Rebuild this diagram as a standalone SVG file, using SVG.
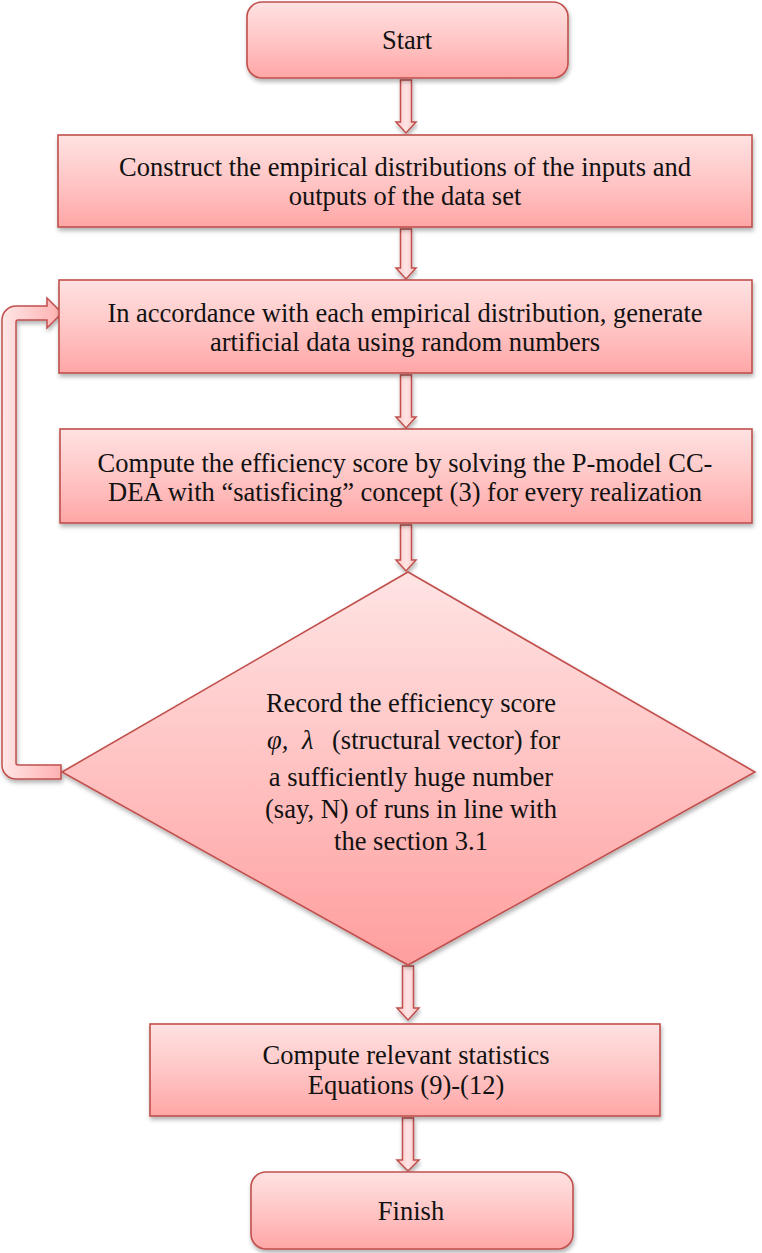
<svg xmlns="http://www.w3.org/2000/svg" width="762" height="1253" viewBox="0 0 762 1253">
  <defs>
    <linearGradient id="gBox" x1="0" y1="0" x2="0" y2="1">
      <stop offset="0" stop-color="#FFE2E2"/>
      <stop offset="0.5" stop-color="#FFC6C6"/>
      <stop offset="1" stop-color="#FFA6A6"/>
    </linearGradient>
    <linearGradient id="gDia" x1="0" y1="0" x2="0" y2="1">
      <stop offset="0" stop-color="#FFE4E4"/>
      <stop offset="0.5" stop-color="#FFC2C2"/>
      <stop offset="1" stop-color="#FF9E9E"/>
    </linearGradient>
    <linearGradient id="gArr" x1="0" y1="0" x2="1" y2="0">
      <stop offset="0" stop-color="#FFC4C4"/>
      <stop offset="0.5" stop-color="#FFE4E4"/>
      <stop offset="1" stop-color="#FFC4C4"/>
    </linearGradient>
    <linearGradient id="gLoop" x1="0" y1="0" x2="1" y2="0">
      <stop offset="0" stop-color="#FFE6E6"/>
      <stop offset="1" stop-color="#FFB0B0"/>
    </linearGradient>
    <filter id="sh" x="-10%" y="-10%" width="120%" height="130%">
      <feDropShadow dx="1" dy="3" stdDeviation="2" flood-color="#000" flood-opacity="0.3"/>
    </filter>
    <style>
      .shape { fill: url(#gBox); stroke: #C0504D; stroke-width: 1.6; filter: url(#sh); }
      .dia { fill: url(#gDia); stroke: #C0504D; stroke-width: 1.6; filter: url(#sh); }
      .arr { fill: url(#gArr); stroke: #C0504D; stroke-width: 1.5; stroke-linejoin: miter; filter: url(#sh); }
      .loop { fill: url(#gLoop); stroke: #C0504D; stroke-width: 1.5; filter: url(#sh); }
      text { font-family: "Liberation Serif", "Times New Roman", serif; font-size: 26.5px; fill: #111; text-anchor: middle; }
      .st { text-anchor: start; }
      .m { font-style: italic; }
    </style>
  </defs>
  <rect width="762" height="1253" fill="#FFFFFF"/>

  <g id="connectors">
    <path class="arr" d="M400.5,80 H411.5 V122 H416 L406,133 L396,122 H400.5 Z"/>
    <path class="arr" d="M400.5,229 H411.5 V268 H416 L406,279 L396,268 H400.5 Z"/>
    <path class="arr" d="M400.5,375 H411.5 V417 H416 L406,428 L396,417 H400.5 Z"/>
    <path class="arr" d="M400.5,525 H411.5 V560 H416 L406,571 L396,560 H400.5 Z"/>
    <path class="arr" d="M402.5,966 H413.5 V1008 H419 L408,1020 L397,1008 H402.5 Z"/>
    <path class="arr" d="M402.5,1118 H413.5 V1160 H419 L408,1171 L397,1160 H402.5 Z"/>
    <path class="loop" d="M61,779 H16 A14,14 0 0 1 2,765 V320 A14,14 0 0 1 16,306 H47 V298 L62,313 L47,328 V320 H18 A2,2 0 0 0 16,322 V763 A2,2 0 0 0 18,765 H61 Z"/>
  </g>

  <g id="start">
    <rect class="shape" x="247" y="2" width="321" height="76" rx="15"/>
    <text x="407" y="49">Start</text>
  </g>

  <g id="construct">
    <rect class="shape" x="58" y="135" width="694" height="92"/>
    <text x="405" y="176">Construct the empirical distributions of the inputs and</text>
    <text x="405" y="205">outputs of the data set</text>
  </g>

  <g id="generate">
    <rect class="shape" x="59" y="280" width="693" height="93"/>
    <text x="405" y="322">In accordance with each empirical distribution, generate</text>
    <text x="405" y="351">artificial data using random numbers</text>
  </g>

  <g id="compute">
    <rect class="shape" x="60" y="429" width="692" height="94"/>
    <text x="405" y="472">Compute the efficiency score by solving the P-model CC-</text>
    <text x="405" y="501">DEA with “satisficing” concept (3) for every realization</text>
  </g>

  <g id="record">
    <polygon class="dia" points="408,572 755,772 408,965 62,772"/>
    <text x="411" y="712">Record the efficiency score</text>
    <text class="st" y="749"><tspan class="m" x="267">φ,</tspan><tspan class="m" x="302">λ</tspan><tspan x="332">(structural vector) for</tspan></text>
    <text x="411" y="786">a sufficiently huge number</text>
    <text x="411" y="818">(say, N) of runs in line with</text>
    <text x="411" y="850">the section 3.1</text>
  </g>

  <g id="statistics">
    <rect class="shape" x="150" y="1024" width="510" height="92"/>
    <text x="406" y="1064">Compute relevant statistics</text>
    <text x="406" y="1094">Equations (9)-(12)</text>
  </g>

  <g id="finish">
    <rect class="shape" x="251" y="1172" width="322" height="77" rx="15"/>
    <text x="411" y="1220">Finish</text>
  </g>
</svg>
